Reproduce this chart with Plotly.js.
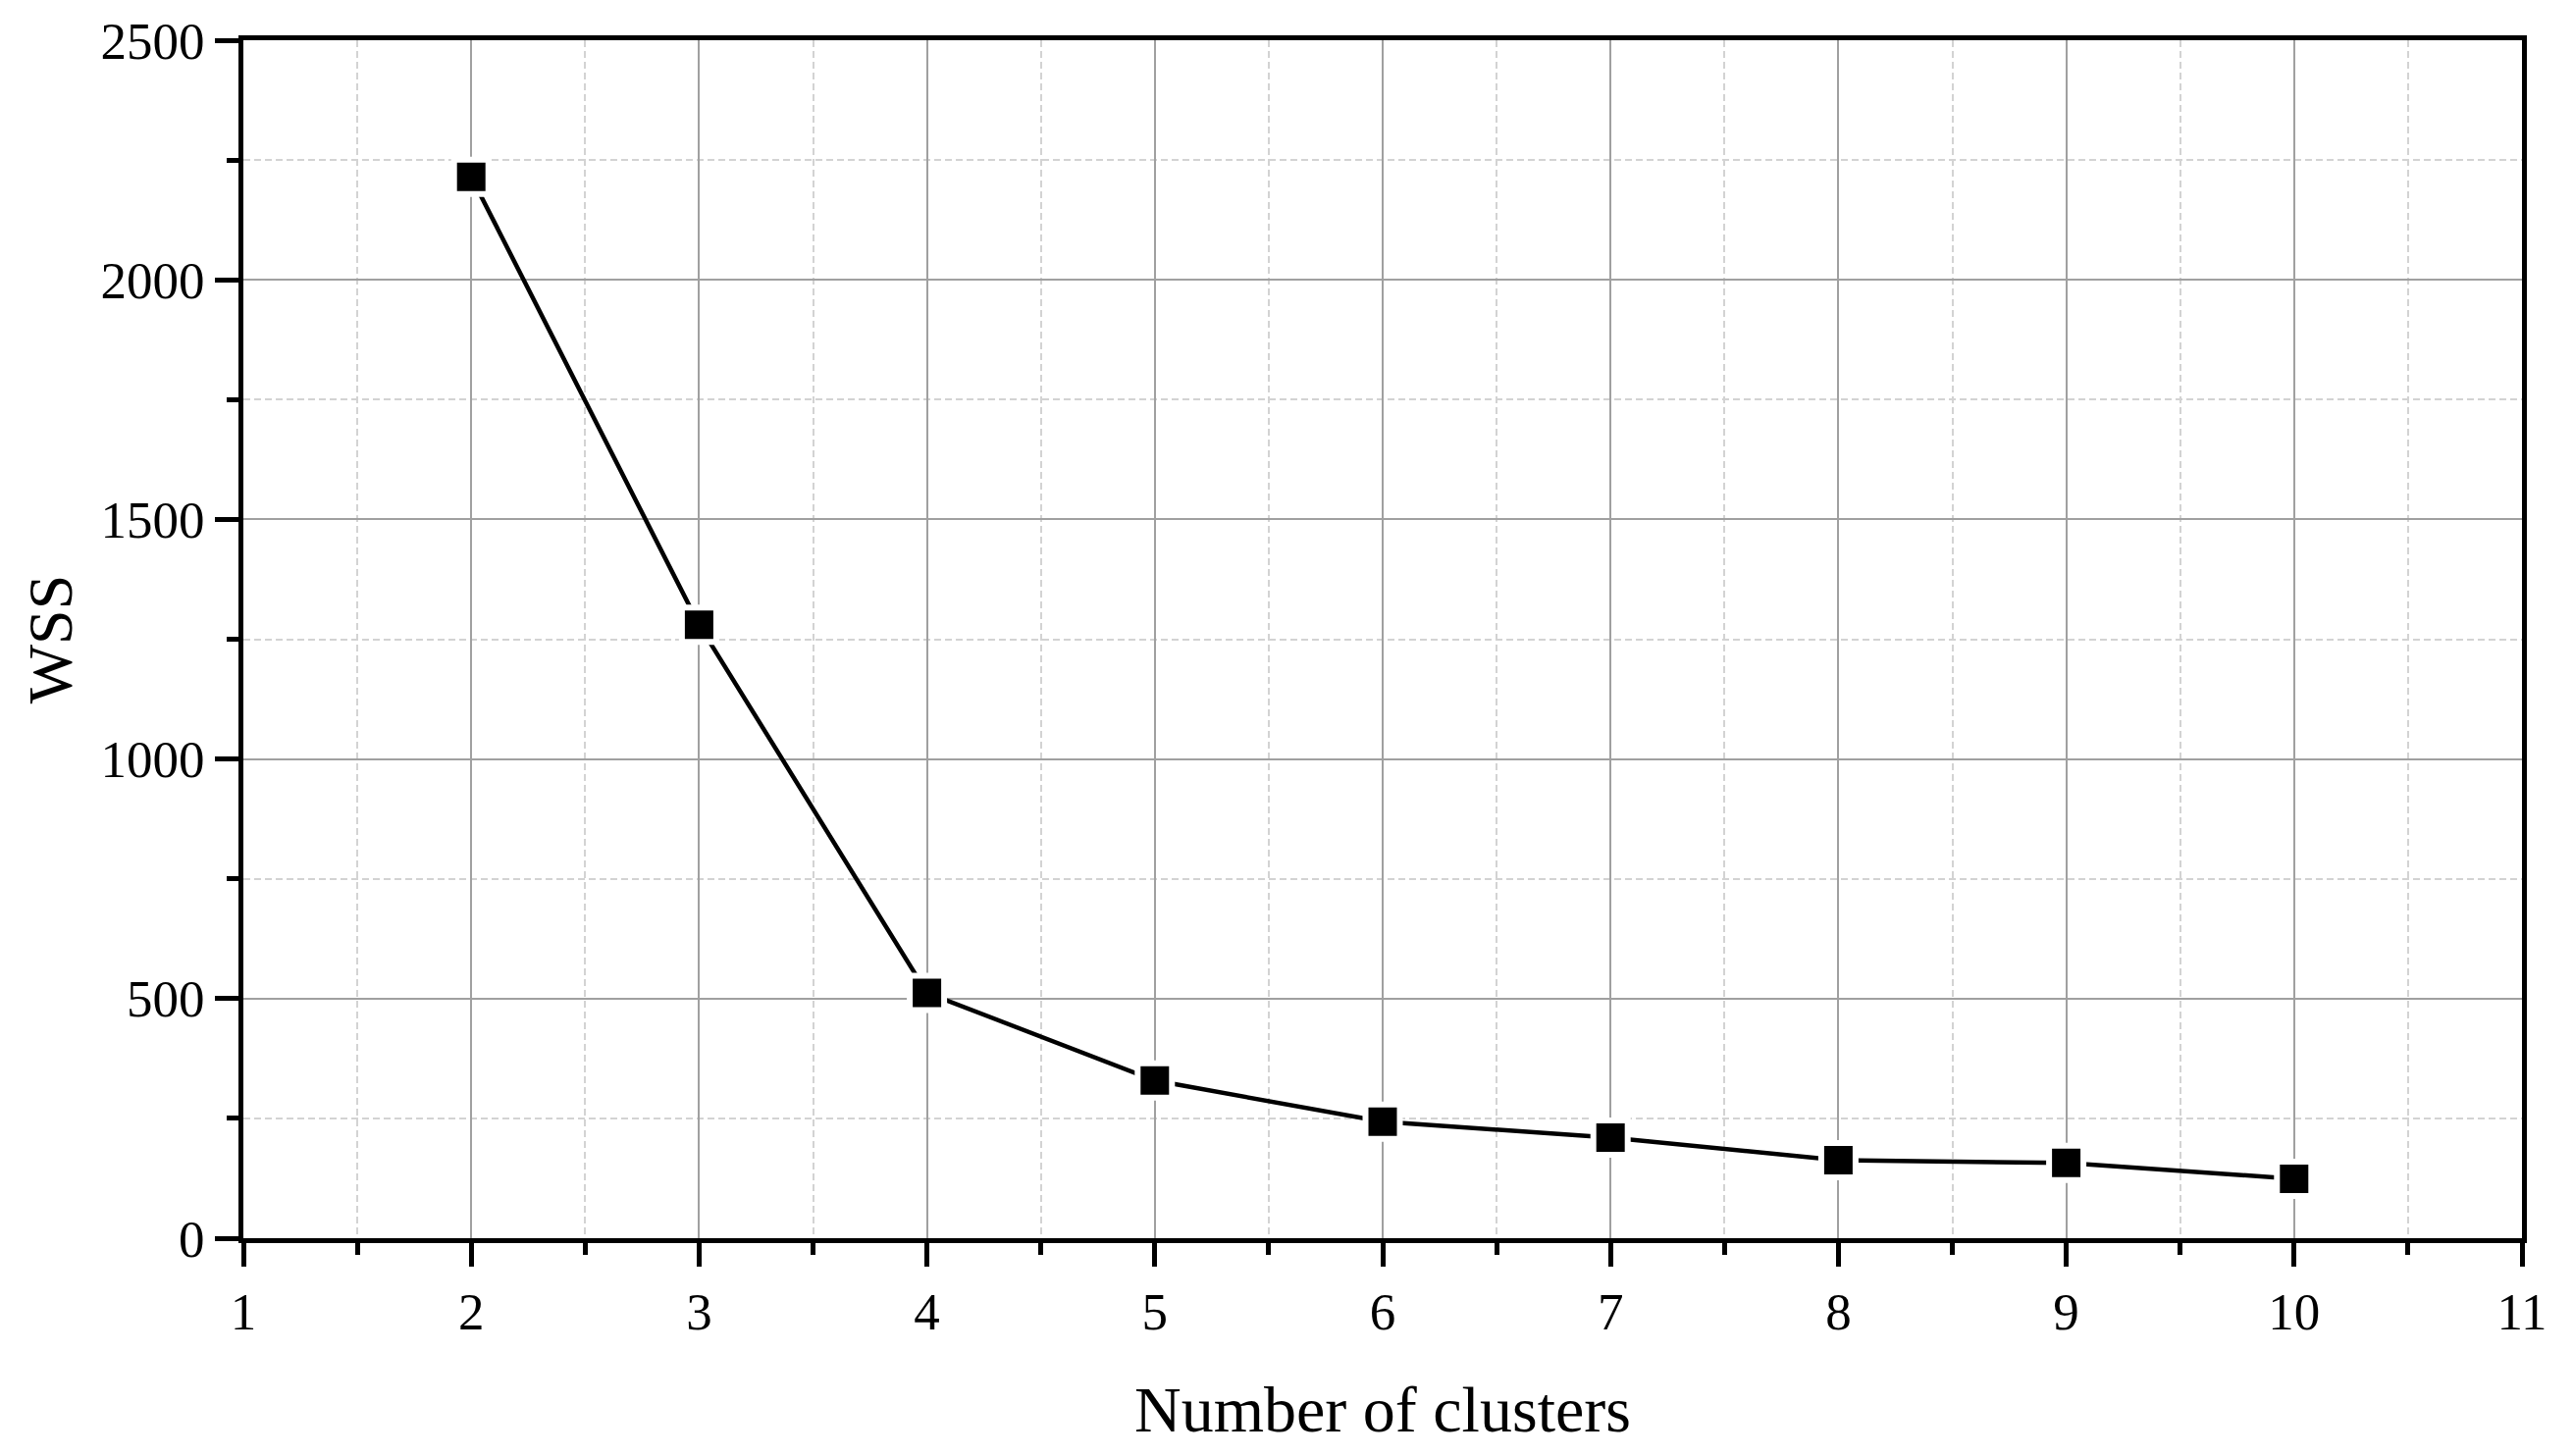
<!DOCTYPE html>
<html>
<head>
<meta charset="utf-8">
<script src="https://cdn.plot.ly/plotly-3.0.1.min.js"></script>
<style>html,body{margin:0;padding:0;background:#fff;}#chart{width:2622px;height:1484px;}</style>
</head>
<body>
<div id="chart"></div>
<script>
// Data
const clusters = [2, 3, 4, 5, 6, 7, 8, 9, 10];
const wss = [2215, 1280, 512, 329, 243, 210, 163, 157, 124];
const xTickVals = [1, 2, 3, 4, 5, 6, 7, 8, 9, 10, 11];
const yTickVals = [0, 500, 1000, 1500, 2000, 2500];
const xTitle = 'Number of clusters';
const yTitle = 'WSS';

const FONT = 'Liberation Serif, Times New Roman, serif';

const trace = {
  x: clusters,
  y: wss,
  type: 'scatter',
  mode: 'lines+markers',
  line: {color: '#000000', width: 4.5},
  marker: {symbol: 'square', size: 35, color: '#000000', line: {color: '#ffffff', width: 6}},
  showlegend: false,
  hoverinfo: 'x+y'
};

const axisCommon = {
  showline: true,
  linecolor: '#000000',
  linewidth: 5,
  mirror: true,
  ticks: 'outside',
  ticklen: 24,
  tickwidth: 5,
  tickcolor: '#000000',
  showgrid: true,
  gridcolor: '#a0a0a0',
  gridwidth: 2,
  zeroline: false,
  tickfont: {family: FONT, size: 53, color: '#000000'},
  automargin: false
};

const layout = {
  width: 2622,
  height: 1484,
  paper_bgcolor: '#ffffff',
  plot_bgcolor: '#ffffff',
  margin: {l: 248, r: 52, t: 41, b: 222, pad: 0},
  font: {family: FONT, color: '#000000'},
  xaxis: Object.assign({}, axisCommon, {
    range: [1, 11],
    tickmode: 'array',
    tickvals: xTickVals,
    ticktext: xTickVals.map(String),
    title: {text: xTitle, font: {family: FONT, size: 66, color: '#000000'}, standoff: 50},
    minor: {dtick: 0.5, tick0: 1, ticks: 'outside', ticklen: 12, tickwidth: 5, tickcolor: '#000000',
            showgrid: true, gridcolor: '#d3d3d3', gridwidth: 2, griddash: '7px,4px'}
  }),
  yaxis: Object.assign({}, axisCommon, {
    range: [0, 2500],
    tickmode: 'array',
    tickvals: yTickVals,
    ticktext: yTickVals.map(String),
    title: {text: yTitle, font: {family: FONT, size: 64, color: '#000000'}, standoff: 10},
    minor: {dtick: 250, tick0: 0, ticks: 'outside', ticklen: 12, tickwidth: 5, tickcolor: '#000000',
            showgrid: true, gridcolor: '#d3d3d3', gridwidth: 2, griddash: '7px,4px'}
  })
};

Plotly.newPlot('chart', [trace], layout, {displayModeBar: false, staticPlot: true});
</script>
</body>
</html>
